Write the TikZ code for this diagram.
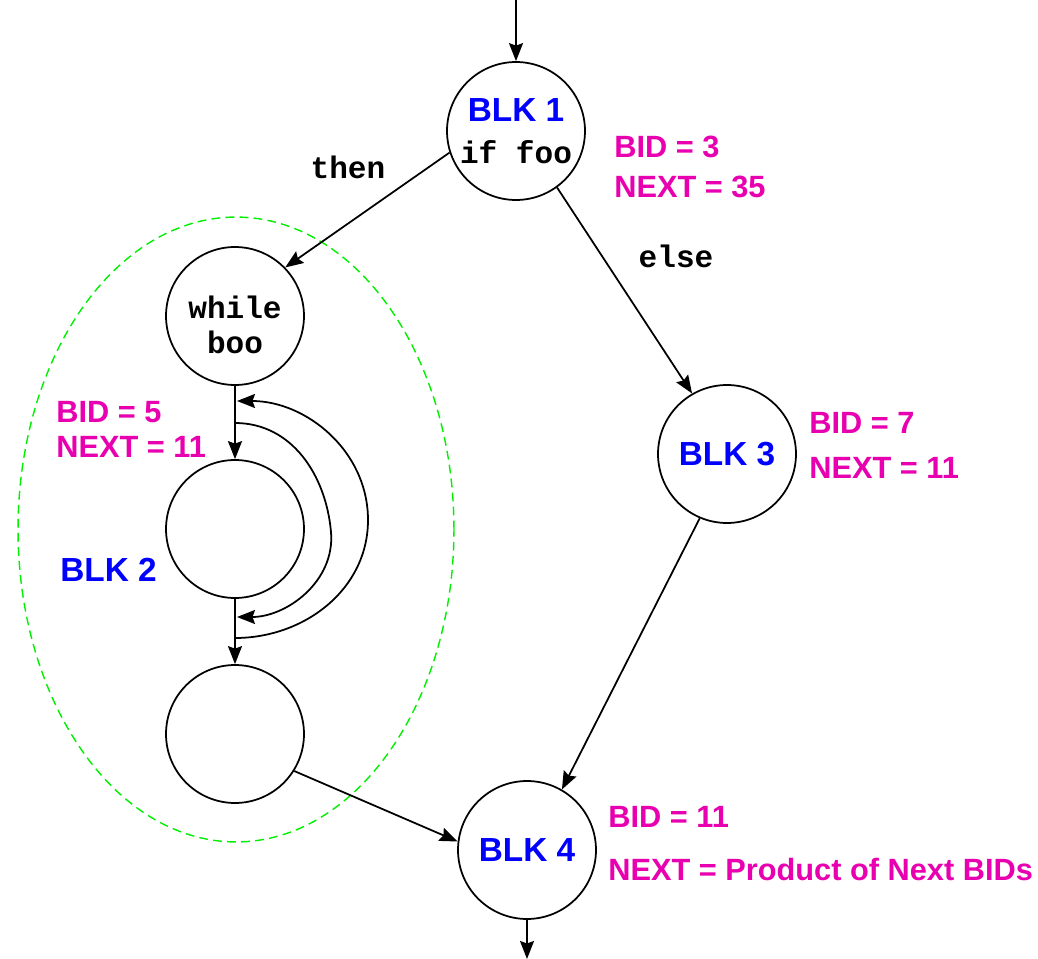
\documentclass[tikz,border=0pt]{standalone}
\usepackage{fontspec}
\setmainfont{Liberation Sans}
\setmonofont{Liberation Mono}
\usepackage{xcolor}
\usepackage{tikz}
\usetikzlibrary{arrows.meta,positioning}
\definecolor{blkblue}{RGB}{0,0,255}
\definecolor{bidpink}{RGB}{232,0,176}
\definecolor{regiongreen}{RGB}{0,240,0}
\newcommand{\blk}[1]{{\fontsize{19}{24}\selectfont\bfseries\color{blkblue}#1}}
\newcommand{\code}[1]{\texttt{\bfseries #1}}

\begin{document}
\begin{tikzpicture}[
      x=0.02cm, y=-0.02cm,
      blkcircle/.style={circle, draw, line width=1pt, minimum size=2.76cm, inner sep=0pt, align=center, font=\fontsize{17.7}{24}\selectfont},
      bid/.style={anchor=west, inner sep=0pt, text=bidpink, font=\fontsize{17.5}{20}\selectfont\bfseries},
      cond/.style={inner sep=0pt, font=\fontsize{17.7}{20}\selectfont\ttfamily\bfseries},
      arr/.style={-{Stealth[length=0.36cm, width=0.28cm, inset=0.05cm]}, line width=1pt},
      region/.style={draw=regiongreen, line width=0.8pt, dash pattern=on 5pt off 3pt}
    ]
      \useasboundingbox (0,0) rectangle (1038,959);

      % the loop region
      \draw[region] (236,529.5) ellipse [x radius=4.36cm, y radius=6.25cm];

      \node[blkcircle] (blk1) at (516,131) {\blk{BLK 1}\\\code{if foo}};
      \node[blkcircle, font=\fontsize{17.7}{20}\selectfont] (loop) at (235,316) {\rule{0pt}{1.3em}\code{while}\\\code{boo}};
      \node[blkcircle] (blk2) at (235,529) {};
      \node[blkcircle] (blk2b) at (235,734) {};
      \node[blkcircle] (blk3) at (727,454) {\blk{BLK 3}};
      \node[blkcircle] (blk4) at (527,850) {\blk{BLK 4}};

      \coordinate (entry) at (516,0);
      \coordinate (exit) at (527,959);

      \node[cond] (then) at (348,167) {then};
      \node[cond] (else) at (676,256) {else};

      \node[bid] (bid1) at (614,147) {BID = 3};
      \node[bid] (next1) at (614,187) {NEXT = 35};
      \node[bid] (bid2) at (56,412) {BID = 5};
      \node[bid] (next2) at (56,447) {NEXT = 11};
      \node[bid] (name2) at (60,570) {\blk{BLK 2}};
      \node[bid] (bid3) at (809,423) {BID = 7};
      \node[bid] (next3) at (809,468) {NEXT = 11};
      \node[bid] (bid4) at (608,817) {BID = 11};
      \node[bid] (next4) at (608,870) {NEXT = Product of Next BIDs};

      \draw[arr] (entry) -- (blk1);
      \draw[arr] (blk1.198) -- (loop.44);
      \draw[arr] (blk1.-54) -- (blk3.120);
      \draw[arr] (loop) -- (blk2);
      \draw[arr] (blk2) -- (blk2b);
      \draw[arr] (blk2b.-32) -- (blk4.173);
      \draw[arr] (blk3.-113) -- (blk4.60);
      \draw[arr] (blk4) -- (exit);

      % back edges of the while loop
      \coordinate (inA) at (235,423);
      \coordinate (inB) at (237,617);
      \coordinate (outA) at (235,638);
      \coordinate (outB) at (237,401);
      \draw[arr] (inA) to[out=0, in=95] (331,532) to[out=-85, in=0] (inB);
      \draw[arr] (outA) to[out=0, in=-90] (368,520) to[out=90, in=0] (outB);
    \end{tikzpicture}
\end{document}
